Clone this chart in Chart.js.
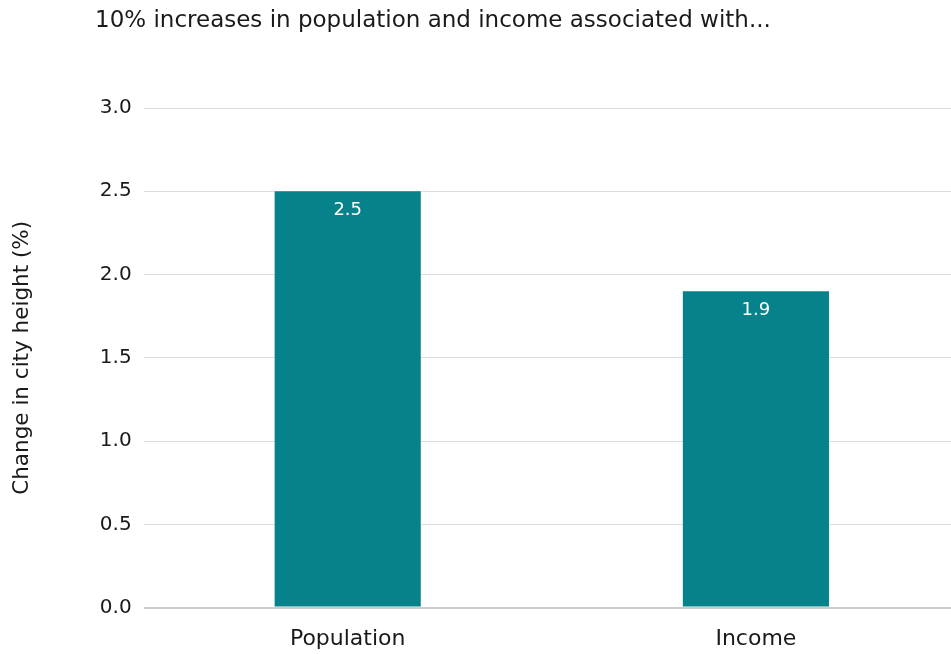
<!DOCTYPE html>
<html lang="en">
<head>
    <meta charset="UTF-8">
    <title>City height</title>
    <script src="https://cdn.jsdelivr.net/npm/chart.js"></script>
    <style>
        html, body { margin: 0; padding: 0; background: #fff; overflow: hidden; }
        #wrap { position: relative; width: 960px; height: 654px; }
    </style>
</head>
<body>
    <div id="wrap"><canvas id="heightChart"></canvas></div>

    <script>
        // Data
        const categories = ['Population', 'Income'];
        const changeInHeight = [2.5, 1.9];
        const yTicks = [0, 0.5, 1.0, 1.5, 2.0, 2.5, 3.0];

        const chartTitle = '10% increases in population and income associated with...';
        const yTitle = 'Change in city height (%)';
        const teal = '#06828b';
        const fontFamily = '"DejaVu Sans", sans-serif';

        // Title in the top-left corner, plus white value labels inside the bars
        const annotate = {
            id: 'annotate',
            afterDatasetsDraw(chart) {
                const ctx = chart.ctx;
                ctx.save();
                ctx.fillStyle = '#1a1a1a';
                ctx.font = '23px ' + fontFamily;
                ctx.textAlign = 'left';
                ctx.textBaseline = 'middle';
                ctx.fillText(chartTitle, 95, 21);

                const meta = chart.getDatasetMeta(0);
                ctx.fillStyle = '#ffffff';
                ctx.font = '18px ' + fontFamily;
                ctx.textAlign = 'center';
                meta.data.forEach((bar, i) => {
                    ctx.fillText(changeInHeight[i].toFixed(1), bar.x, bar.y + 19);
                });
                ctx.restore();
            }
        };

        const ctx = document.getElementById('heightChart').getContext('2d');
        new Chart(ctx, {
            type: 'bar',
            data: {
                labels: categories,
                datasets: [{
                    data: changeInHeight,
                    backgroundColor: teal,
                    categoryPercentage: 1.0,
                    barPercentage: 0.358
                }]
            },
            options: {
                responsive: true,
                maintainAspectRatio: false,
                animation: false,
                layout: { padding: { top: 108, left: 10, right: 0, bottom: -16 } },
                plugins: {
                    legend: { display: false },
                    tooltip: { enabled: false }
                },
                scales: {
                    x: {
                        grid: { display: false, drawTicks: false },
                        border: { display: false },
                        ticks: {
                            color: '#1a1a1a',
                            font: { family: fontFamily, size: 22 },
                            padding: 18
                        }
                    },
                    y: {
                        min: 0,
                        max: 3,
                        afterBuildTicks(axis) {
                            axis.ticks = yTicks.map(v => ({ value: v }));
                        },
                        grid: {
                            drawTicks: false,
                            color: ctx => ctx.tick.value === 0 ? '#cccccc' : '#dddddd',
                            lineWidth: ctx => ctx.tick.value === 0 ? 2 : 1
                        },
                        border: { display: false },
                        ticks: {
                            color: '#1a1a1a',
                            font: { family: fontFamily, size: 20 },
                            padding: 12,
                            callback: v => Number(v).toFixed(1)
                        },
                        title: {
                            display: true,
                            text: yTitle,
                            color: '#1a1a1a',
                            font: { family: fontFamily, size: 21.5 },
                            padding: { top: 0, bottom: 52 }
                        }
                    }
                }
            },
            plugins: [annotate]
        });
    </script>
</body>
</html>
